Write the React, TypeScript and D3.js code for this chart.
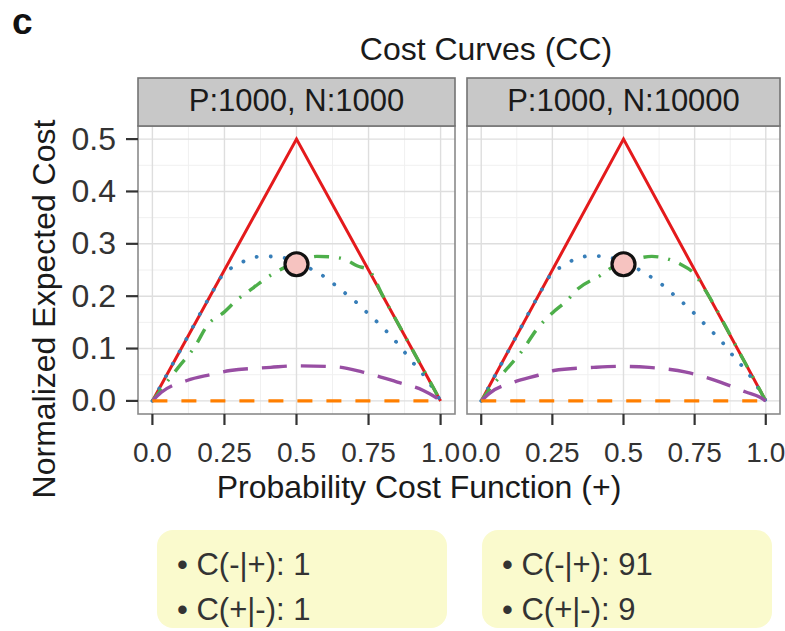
import React from 'react';
import * as d3 from 'd3';

const xTicks = [0, 0.25, 0.5, 0.75, 1];
const xTickLabels = ['0.0', '0.25', '0.5', '0.75', '1.0'];
const xMinor = [0.125, 0.375, 0.625, 0.875];
const yTicks = [0, 0.1, 0.2, 0.3, 0.4, 0.5];
const yTickLabels = ['0.0', '0.1', '0.2', '0.3', '0.4', '0.5'];
const yMinor = [0.05, 0.15, 0.25, 0.35, 0.45];

const panelTitles = ['P:1000, N:1000', 'P:1000, N:10000'];
const costFN = ['1', '91'];
const costFP = ['1', '9'];

const redX = [0, 0.5, 1];
const redY = [0, 0.5, 0];

const blueX1 = [0, 0.1, 0.2, 0.25, 0.29, 0.33, 0.38, 0.44, 0.5, 0.55, 0.6, 0.65, 0.7, 0.75, 0.8, 0.85, 0.9, 0.95, 1];
const blueY1 = [0, 0.1, 0.2, 0.245, 0.258, 0.27, 0.276, 0.275, 0.264, 0.252, 0.236, 0.214, 0.192, 0.166, 0.14, 0.11, 0.076, 0.043, 0];
const blueX2 = [0, 0.1, 0.2, 0.25, 0.29, 0.33, 0.39, 0.45, 0.5, 0.55, 0.59, 0.64, 0.68, 0.72, 0.76, 0.8, 0.84, 0.87, 0.91, 0.95, 1];
const blueY2 = [0, 0.1, 0.2, 0.245, 0.258, 0.271, 0.277, 0.274, 0.264, 0.252, 0.239, 0.22, 0.201, 0.182, 0.161, 0.138, 0.117, 0.096, 0.071, 0.044, 0];

const greenX1 = [0, 0.05, 0.09, 0.15, 0.19, 0.25, 0.29, 0.35, 0.41, 0.46, 0.5, 0.57, 0.62, 0.67, 0.71, 0.75, 0.8, 0.9, 1];
const greenY1 = [0, 0.036, 0.064, 0.106, 0.144, 0.17, 0.191, 0.216, 0.24, 0.255, 0.264, 0.276, 0.275, 0.27, 0.258, 0.25, 0.2, 0.1, 0];
const greenX2 = [0, 0.04, 0.08, 0.14, 0.2, 0.25, 0.3, 0.34, 0.42, 0.46, 0.5, 0.55, 0.6, 0.65, 0.7, 0.745, 0.8, 0.9, 1];
const greenY2 = [0, 0.03, 0.055, 0.093, 0.14, 0.168, 0.191, 0.214, 0.24, 0.255, 0.264, 0.272, 0.276, 0.272, 0.261, 0.245, 0.2, 0.1, 0];

const purpleX1 = [0, 0.03, 0.12, 0.2, 0.27, 0.41, 0.5, 0.64, 0.73, 0.85, 0.94, 0.98, 1];
const purpleY1 = [0, 0.016, 0.039, 0.05, 0.058, 0.064, 0.067, 0.065, 0.055, 0.036, 0.02, 0.008, 0];
const purpleX2 = [0, 0.03, 0.115, 0.2, 0.255, 0.395, 0.49, 0.59, 0.72, 0.84, 0.93, 0.98, 1];
const purpleY2 = [0, 0.015, 0.036, 0.049, 0.058, 0.064, 0.066, 0.064, 0.055, 0.036, 0.017, 0.007, 0];

const orangeX = [0, 1];
const orangeY = [0, 0];

const pointX = [0.5, 0.5];
const pointY = [0.261, 0.261];

const blueX = [blueX1, blueX2];
const blueY = [blueY1, blueY2];
const greenX = [greenX1, greenX2];
const greenY = [greenY1, greenY2];
const purpleX = [purpleX1, purpleX2];
const purpleY = [purpleY1, purpleY2];

const FONT = "'Liberation Sans', Arial, Helvetica, sans-serif";
const W = 785;
const H = 631;
const PANEL_LEFT = [138, 467];
const PANEL_RIGHT = [455, 780];
const STRIP_TOP = 78;
const PLOT_TOP = 126;
const PLOT_BOTTOM = 414;

const zip = (xs: number[], ys: number[]) => xs.map((x, i) => [x, ys[i]] as [number, number]);

function Panel({ idx }: { idx: number }) {
  const left = PANEL_LEFT[idx];
  const right = PANEL_RIGHT[idx];
  const x = d3.scaleLinear().domain([-0.05, 1.05]).range([left, right]);
  const y = d3.scaleLinear().domain([-0.025, 0.525]).range([PLOT_BOTTOM, PLOT_TOP]);
  const lineLin = d3.line<[number, number]>().x(d => x(d[0])).y(d => y(d[1]));
  const lineSmooth = d3.line<[number, number]>().x(d => x(d[0])).y(d => y(d[1])).curve(d3.curveMonotoneX);
  const clipId = `clip${idx}`;
  return (
    <g>
      <defs>
        <clipPath id={clipId}>
          <rect x={left} y={PLOT_TOP} width={right - left} height={PLOT_BOTTOM - PLOT_TOP} />
        </clipPath>
      </defs>
      <rect x={left} y={PLOT_TOP} width={right - left} height={PLOT_BOTTOM - PLOT_TOP} fill="#fff" />
      {xMinor.map(v => <line key={'xm' + v} x1={x(v)} x2={x(v)} y1={PLOT_TOP} y2={PLOT_BOTTOM} stroke="#f0f0f0" strokeWidth={1} />)}
      {yMinor.map(v => <line key={'ym' + v} y1={y(v)} y2={y(v)} x1={left} x2={right} stroke="#f0f0f0" strokeWidth={1} />)}
      {xTicks.map(v => <line key={'xg' + v} x1={x(v)} x2={x(v)} y1={PLOT_TOP} y2={PLOT_BOTTOM} stroke="#dedede" strokeWidth={1.4} />)}
      {yTicks.map(v => <line key={'yg' + v} y1={y(v)} y2={y(v)} x1={left} x2={right} stroke="#dedede" strokeWidth={1.4} />)}
      <g clipPath={`url(#${clipId})`}>
        <path d={lineLin(zip(redX, redY)) || ''} fill="none" stroke="#e41a1c" strokeWidth={3} />
        <path d={lineSmooth(zip(blueX[idx], blueY[idx])) || ''} fill="none" stroke="#377eb8" strokeWidth={3.8} strokeDasharray="0.1 14" strokeLinecap="round" />
        <path d={lineSmooth(zip(greenX[idx], greenY[idx])) || ''} fill="none" stroke="#4daf4a" strokeWidth={3.4} strokeDasharray="15 10 2 10" />
        <path d={lineSmooth(zip(purpleX[idx], purpleY[idx])) || ''} fill="none" stroke="#984ea3" strokeWidth={3.4} strokeDasharray="25 14" />
        <path d={lineLin(zip(orangeX, orangeY)) || ''} fill="none" stroke="#ff7f00" strokeWidth={3.4} strokeDasharray="15 14" />
        <circle cx={x(pointX[idx])} cy={y(pointY[idx])} r={11.5} fill="#f6c3c0" stroke="#111" strokeWidth={3.2} />
      </g>
      <rect x={left} y={PLOT_TOP} width={right - left} height={PLOT_BOTTOM - PLOT_TOP} fill="none" stroke="#8a8a8a" strokeWidth={1.6} />
      <rect x={left} y={STRIP_TOP} width={right - left} height={PLOT_TOP - STRIP_TOP} fill="#c8c8c8" stroke="#737373" strokeWidth={1.6} />
      <text x={(left + right) / 2} y={111} textAnchor="middle" fontSize={31} fill="#1a1a1a" fontFamily={FONT}>{panelTitles[idx]}</text>
      {xTicks.map((v, i) => (
        <g key={'xt' + v}>
          <line x1={x(v)} x2={x(v)} y1={PLOT_BOTTOM} y2={PLOT_BOTTOM + 11} stroke="#333" strokeWidth={2.2} />
          <text x={x(v)} y={462} textAnchor="middle" fontSize={28} fill="#333" fontFamily={FONT}>{xTickLabels[i]}</text>
        </g>
      ))}
      {idx === 0 && yTicks.map((v, i) => (
        <g key={'yt' + v}>
          <line x1={left - 12} x2={left} y1={y(v)} y2={y(v)} stroke="#333" strokeWidth={2.2} />
          <text x={116} y={y(v) + 10.5} textAnchor="end" fontSize={32} fill="#333" fontFamily={FONT}>{yTickLabels[i]}</text>
        </g>
      ))}
    </g>
  );
}

function CostBox({ idx, x0, x1 }: { idx: number; x0: number; x1: number }) {
  return (
    <g>
      <rect x={x0} y={530} width={x1 - x0} height={98} rx={16} ry={16} fill="#fafacd" />
      <text x={x0 + 20} y={575} fontSize={31} fill="#333" fontFamily={FONT}>{'\u2022 C(-|+): ' + costFN[idx]}</text>
      <text x={x0 + 20} y={620} fontSize={31} fill="#333" fontFamily={FONT}>{'\u2022 C(+|-): ' + costFP[idx]}</text>
    </g>
  );
}

export default function App() {
  return (
    <svg width={W} height={H} style={{ position: 'absolute', left: 0, top: 0, background: '#fff' }}>
      <rect x={0} y={0} width={W} height={H} fill="#fff" />
      <text x={12} y={34} fontSize={37} fontWeight="bold" fill="#111" fontFamily={FONT}>c</text>
      <text x={486} y={60} textAnchor="middle" fontSize={32} fill="#1a1a1a" fontFamily={FONT}>Cost Curves (CC)</text>
      <Panel idx={0} />
      <Panel idx={1} />
      <text transform={`translate(55, ${309}) rotate(-90)`} textAnchor="middle" fontSize={32} fill="#1a1a1a" fontFamily={FONT}>Normalized Expected Cost</text>
      <text x={419} y={498} textAnchor="middle" fontSize={32} fill="#1a1a1a" fontFamily={FONT}>Probability Cost Function (+)</text>
      <CostBox idx={0} x0={157} x1={447} />
      <CostBox idx={1} x0={482} x1={772} />
    </svg>
  );
}
